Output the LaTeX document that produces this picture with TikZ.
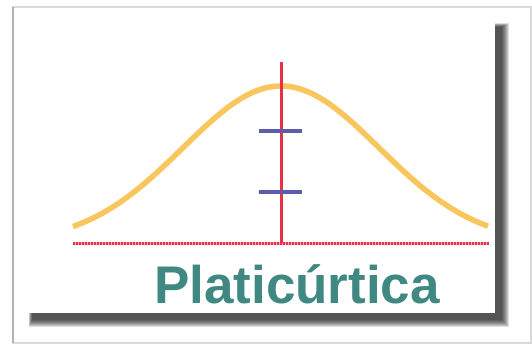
\documentclass[tikz,border=0pt]{standalone}
\usepackage{fontspec}
\setmainfont{Liberation Sans}
\usepackage{tikz}
\definecolor{curvecol}{RGB}{248,198,92}
\definecolor{axiscol}{RGB}{232,46,72}
\definecolor{tickcol}{RGB}{92,92,170}
\definecolor{labelcol}{RGB}{64,136,130}
\newcommand{\sdtick}[1]{%
  \draw[tickcol,line width=3.2pt] (259,#1) -- (302,#1);
}
\begin{document}
\begin{tikzpicture}[x=1pt,y=-1pt,every node/.style={inner sep=0pt}]
  \useasboundingbox (0,0) rectangle (532,347);
  % outer frame
  \draw[gray!30,line width=1.2pt] (13,7) rectangle (531,343);
  \draw[gray!60,line width=1.4pt] (13,7) -- (13,343);
  % shadow of the picture
  \foreach \k in {0,...,7}
    \fill[black,opacity=0.13] (32-\k/2,27-\k/2) rectangle (502+\k,320+\k);
  \fill[white] (20,15) rectangle (495,313);
  % axis and mean
  \draw[axiscol!40,line width=3pt] (73,243) -- (489,243);
  \draw[axiscol,line width=3pt,dash pattern=on 2pt off 1pt] (73,243) -- (489,243);
  \draw[curvecol,line width=5.5pt]
    plot[domain=73:488,samples=90] (\x,{243-157*exp(-0.5*((\x-281)/98)^2)});
  \draw[axiscol,line width=3pt] (281,62) -- (281,243);
  \sdtick{131}
  \sdtick{192}
  \node[anchor=base,text=labelcol,font=\fontsize{53}{53}\selectfont\bfseries]
    (name) at (297,303) {Platicúrtica};
\end{tikzpicture}
\end{document}
